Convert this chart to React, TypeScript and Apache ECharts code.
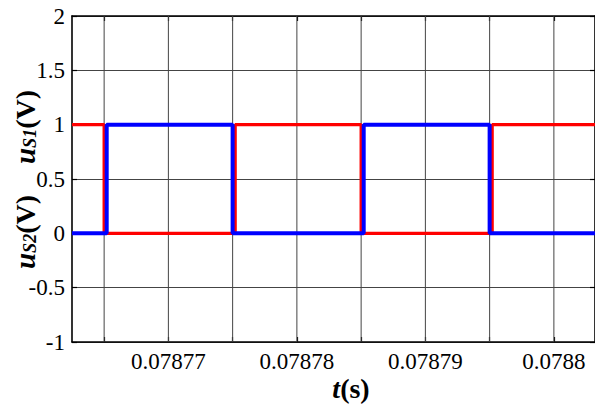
import React, { useEffect, useRef } from "react";
import * as echarts from "echarts";

// Time axis (s)
const xMin = 0.0787625;
const xMax = 0.0788032;
const xTickValues = [0.078765, 0.07877, 0.078775, 0.07878, 0.078785, 0.07879, 0.078795, 0.0788];
const xLabelValues = [0.07877, 0.07878, 0.07879, 0.0788];
const xLabelTexts = ["0.07877", "0.07878", "0.07879", "0.0788"];

// Voltage axis
const yMin = -1;
const yMax = 2;
const yInterval = 0.5;

// u_S1 (red) switching points: time, level (held until next time)
const s1Times = [0.0787625, 0.078765, 0.0787752, 0.078785, 0.0787952, 0.0788032];
const s1Levels = [1, 0, 1, 0, 1, 1];

// u_S2 (blue)
const s2Times = [0.0787625, 0.0787652, 0.078775, 0.0787852, 0.078795, 0.0788032];
const s2Levels = [0, 1, 0, 1, 0, 0];

const FONT = "Times New Roman, Liberation Serif, serif";

export default function App() {
  const ref = useRef<HTMLDivElement>(null);
  useEffect(() => {
    if (!ref.current) return;
    const chart = echarts.init(ref.current, null, { renderer: "svg" });
    const gridColor = "#444444";
    const labelFor = (v: number) => {
      const i = xLabelValues.findIndex((x) => Math.abs(x - v) < 1e-10);
      return i >= 0 ? xLabelTexts[i] : "";
    };
    const subRich = {
      u: { fontFamily: FONT, fontSize: 29, fontWeight: "bold", fontStyle: "italic", color: "#000", lineHeight: 28 },
      s: { fontFamily: FONT, fontSize: 18, fontWeight: "bold", fontStyle: "italic", color: "#000", lineHeight: 6, verticalAlign: "bottom" },
      v: { fontFamily: FONT, fontSize: 28, fontWeight: "bold", color: "#000", lineHeight: 28 },
    };
    const option: any = {
      animation: false,
      backgroundColor: "#ffffff",
      grid: { left: 72, right: -2, top: 16, bottom: 62, containLabel: false },
      xAxis: [
        {
          type: "value",
          min: xMin,
          max: xMax,
          position: "bottom",
          axisLine: { show: true, onZero: false, lineStyle: { color: "#000", width: 1.6 } },
          axisTick: { show: true, inside: true, length: 5, customValues: xTickValues, lineStyle: { color: "#000", width: 1.2 } },
          axisLabel: {
            show: true,
            customValues: xLabelValues,
            formatter: (v: number) => labelFor(v),
            color: "#000",
            fontFamily: FONT,
            fontSize: 23,
            margin: 8,
          },
          splitLine: { show: false },
        },
        {
          type: "value",
          min: xMin,
          max: xMax,
          position: "top",
          axisLine: { show: true, onZero: false, lineStyle: { color: "#000", width: 1.6 } },
          axisTick: { show: true, inside: true, length: 5, customValues: xTickValues, lineStyle: { color: "#000", width: 1.2 } },
          axisLabel: { show: false },
          splitLine: { show: false },
        },
      ],
      yAxis: [
        {
          type: "value",
          min: yMin,
          max: yMax,
          interval: yInterval,
          position: "left",
          axisLine: { show: true, onZero: false, lineStyle: { color: "#000", width: 1.6 } },
          axisTick: { show: true, inside: true, length: 5, lineStyle: { color: "#000", width: 1.2 } },
          axisLabel: {
            show: true,
            color: "#000",
            fontFamily: FONT,
            fontSize: 23,
            margin: 7,
            formatter: (v: number) => String(v),
          },
          splitLine: { show: true, lineStyle: { color: gridColor, width: 1 } },
        },
        {
          type: "value",
          min: yMin,
          max: yMax,
          interval: yInterval,
          position: "right",
          axisLine: { show: true, onZero: false, lineStyle: { color: "#000", width: 1.6 } },
          axisTick: { show: true, inside: true, length: 5, lineStyle: { color: "#000", width: 1.2 } },
          axisLabel: { show: false },
          splitLine: { show: false },
        },
      ],
      series: [
        {
          type: "custom",
          name: "vgrid",
          z: 1,
          silent: true,
          xAxisIndex: 0,
          yAxisIndex: 0,
          data: xTickValues.map((v) => [v]),
          renderItem: (params: any, api: any) => {
            const x = api.value(0);
            const p1 = api.coord([x, yMax]);
            const p2 = api.coord([x, yMin]);
            return {
              type: "line",
              shape: { x1: p1[0], y1: p1[1], x2: p2[0], y2: p2[1] },
              style: { stroke: gridColor, lineWidth: 1 },
            };
          },
        },
        {
          type: "line",
          name: "uS1",
          z: 3,
          step: "end",
          showSymbol: false,
          symbol: "none",
          lineStyle: { color: "#ff0000", width: 3.2 },
          itemStyle: { color: "#ff0000" },
          data: s1Times.map((t, i) => [t, s1Levels[i]]),
        },
        {
          type: "line",
          name: "uS2",
          z: 4,
          step: "end",
          showSymbol: false,
          symbol: "none",
          lineStyle: { color: "#0000ff", width: 4 },
          itemStyle: { color: "#0000ff" },
          data: s2Times.map((t, i) => [t, s2Levels[i]]),
        },
      ],
      graphic: [
        {
          type: "text",
          x: 25,
          y: 127,
          rotation: Math.PI / 2,
          style: { text: "{u|u}{s|S1}{v|(V)}", align: "center", verticalAlign: "middle", rich: subRich },
        },
        {
          type: "text",
          x: 25,
          y: 232,
          rotation: Math.PI / 2,
          style: { text: "{u|u}{s|S2}{v|(V)}", align: "center", verticalAlign: "middle", rich: subRich },
        },
        {
          type: "text",
          x: 351,
          y: 388,
          style: {
            text: "{t|t}{s|(s)}",
            align: "center",
            verticalAlign: "middle",
            rich: {
              t: { fontFamily: FONT, fontSize: 28, fontWeight: "bold", fontStyle: "italic", color: "#000" },
              s: { fontFamily: FONT, fontSize: 28, fontWeight: "bold", color: "#000" },
            },
          },
        },
      ],
    };
    chart.setOption(option);
    return () => chart.dispose();
  }, []);
  return (
    <div
      ref={ref}
      style={{ position: "fixed", left: 0, top: 0, width: 595, height: 404, background: "#fff" }}
    />
  );
}
